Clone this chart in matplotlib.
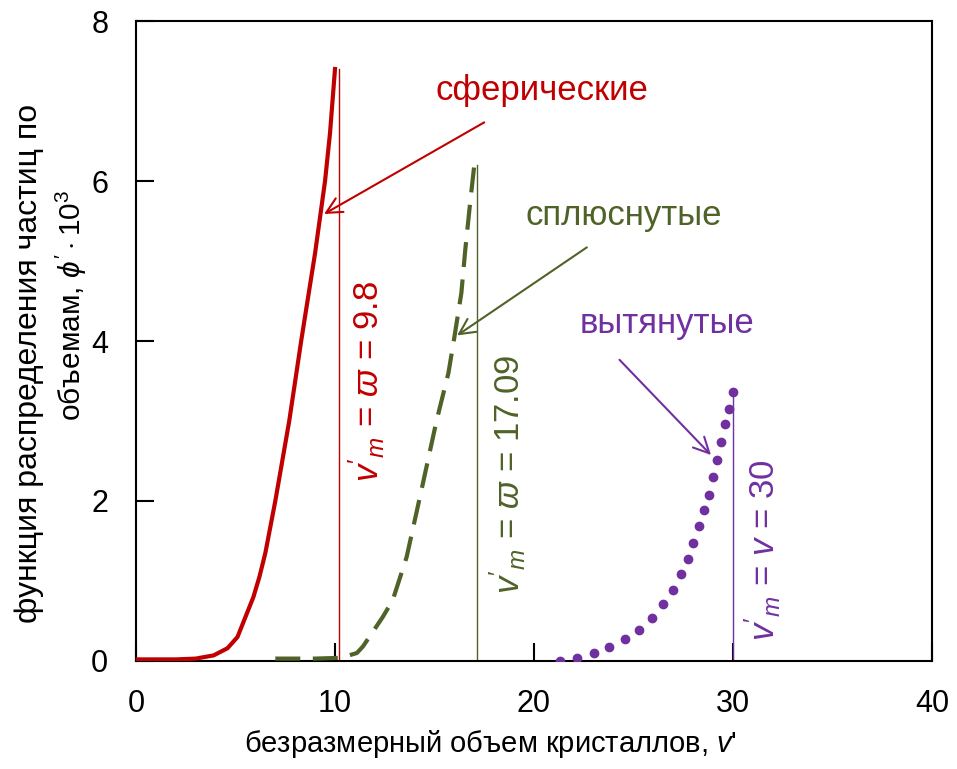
import matplotlib
matplotlib.use('Agg')
import matplotlib.pyplot as plt

plt.rcParams['font.family'] = ['Liberation Sans', 'DejaVu Sans']
plt.rcParams['mathtext.fontset'] = 'custom'
plt.rcParams['mathtext.rm'] = 'Liberation Sans'
plt.rcParams['mathtext.it'] = 'Liberation Sans:italic'

# сферические (сплошная)
sph_x = [0.0, 1.0, 2.0, 3.0, 3.9, 4.6, 5.1, 5.5, 5.9, 6.2, 6.5, 7.0, 7.35, 7.7, 8.0,
         8.3, 8.65, 9.0, 9.25, 9.5, 9.75, 10.0]
sph_y = [0.02, 0.02, 0.02, 0.03, 0.07, 0.16, 0.30, 0.55, 0.80, 1.05, 1.35, 2.0, 2.5,
         3.0, 3.5, 4.0, 4.55, 5.1, 5.55, 6.0, 6.6, 7.4]

# сплюснутые (штрих)
obl_x = [7.0, 8.0, 9.0, 10.3, 11.1, 11.4, 12.4, 12.9, 13.6, 14.4, 15.1, 15.7, 16.0,
         16.35, 16.55, 16.8, 17.0]
obl_y = [0.03, 0.03, 0.03, 0.04, 0.10, 0.18, 0.55, 0.76, 1.3, 2.2, 3.0, 3.6, 4.05,
         4.6, 5.15, 5.75, 6.2]

# вытянутые (точки)
pro_x = [21.31, 22.18, 23.02, 23.78, 24.57, 25.29, 25.93, 26.47, 26.97, 27.37, 27.74, 28.01,
         28.31, 28.54, 28.78, 28.98, 29.18, 29.40, 29.60, 29.78, 30.02]
pro_y = [0.0, 0.04, 0.10, 0.17, 0.27, 0.39, 0.54, 0.71, 0.89, 1.09, 1.28, 1.48,
         1.69, 1.89, 2.08, 2.30, 2.51, 2.74, 2.96, 3.15, 3.36]

vm = [10.2, 17.15, 30.0]
vm_top = [7.4, 6.2, 3.36]

red = '#C00000'
green = '#4F6228'
purple = '#7030A0'
colors = [red, green, purple]

fig = plt.figure(figsize=(9.57, 7.69), dpi=100)
ax = fig.add_axes([136/957, 108/769, 796/957, 640/769])

for x, top, c in zip(vm, vm_top, colors):
    ax.plot([x, x], [0, top], color=c, lw=1.0, zorder=2)

ax.plot(sph_x, sph_y, color=red, lw=3, zorder=3)
ax.plot(obl_x, obl_y, color=green, lw=3, dashes=(6, 3), zorder=3)
ax.plot(pro_x, pro_y, 'o', color=purple, ms=6, zorder=3)

ax.set_xlim(0, 40)
ax.set_ylim(0, 8)
ax.set_xticks([0, 10, 20, 30, 40])
ax.set_yticks([0, 2, 4, 6, 8])
ax.tick_params(direction='in', length=13, width=1.5, labelsize=22)
ax.tick_params(axis='x', pad=20)
ax.tick_params(axis='y', pad=20)
for s in ['left', 'bottom', 'top', 'right']:
    ax.spines[s].set_linewidth(1.5)

ax.set_xlabel("безразмерный объем кристаллов, $v$'", fontsize=21)
ax.xaxis.set_label_coords(0.445, -0.105)
fig.text(0.030, 0.527, 'функция распределения частиц по', rotation=90,
         ha='center', va='center', fontsize=23)
fig.text(0.075, 0.603, "объемам, $\\phi'\\cdot10^3$", rotation=90,
         ha='center', va='center', fontsize=21.5)

ax.text(20.4, 7.13, 'сферические', color=red, fontsize=25, ha='center', va='center')
ax.text(24.5, 5.57, 'сплюснутые', color=green, fontsize=25, ha='center', va='center')
ax.text(26.7, 4.22, 'вытянутые', color=purple, fontsize=25, ha='center', va='center')

arrow = dict(arrowstyle='->', lw=1.5, mutation_scale=28)
ax.annotate('', xy=(9.33, 5.57), xytext=(17.62, 6.75), arrowprops=dict(arrow, color=red))
ax.annotate('', xy=(16.02, 4.05), xytext=(22.77, 5.19), arrowprops=dict(arrow, color=green))
ax.annotate('', xy=(28.99, 2.55), xytext=(24.2, 3.79), arrowprops=dict(arrow, color=purple))

ax.text(11.6, 3.49, "$v'_m$ = $\\varpi$ = 9.8", color=red, fontsize=25,
        rotation=90, ha='center', va='center')
ax.text(18.7, 2.33, "$v'_m$ = $\\varpi$ = 17.09", color=green, fontsize=25,
        rotation=90, ha='center', va='center')
ax.text(31.5, 1.39, "$v'_m$ = $v$ = 30", color=purple, fontsize=25,
        rotation=90, ha='center', va='center')

fig.savefig('out.png', dpi=100)
